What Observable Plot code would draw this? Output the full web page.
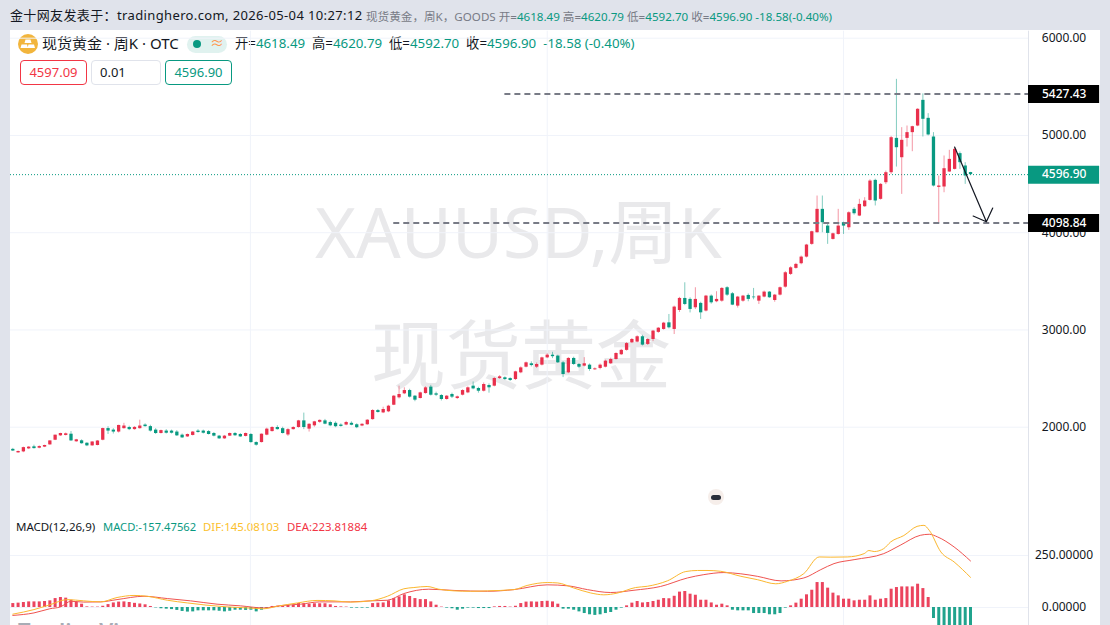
<!DOCTYPE html>
<html><head><meta charset="utf-8">
<script src="https://cdn.jsdelivr.net/npm/d3@7"></script>
<script src="https://cdn.jsdelivr.net/npm/@observablehq/plot@0.6"></script>
<style>
html,body{margin:0;padding:0;background:#e0e3eb;}
#root{position:relative;width:1110px;height:625px;overflow:hidden;background:#e0e3eb;font-family:"Noto Sans","Noto Sans CJK SC",sans-serif;color:#131722;}
#panel{position:absolute;left:10px;top:30px;width:1090px;height:595px;background:#fff;}
.a{position:absolute;white-space:nowrap;line-height:1;}
.t{color:#089981;}
.wm{color:#e9e9eb;font-family:"Noto Sans","Noto Sans CJK SC",sans-serif;}
.box{position:absolute;box-sizing:border-box;height:25px;top:60px;border-radius:4px;background:#fff;font-size:13px;line-height:23px;text-align:center;}
svg.p{position:absolute;left:0;background:transparent;}
</style></head><body>
<div id="root">
<div id="panel"></div>
<div class="a" style="left:10px;top:9px;font-size:13px;letter-spacing:.37px">金十网友发表于：tradinghero.com, 2026-05-04 10:27:12</div>
<div class="a" style="left:366px;top:11px;font-size:11.6px;color:#787b86">现货黄金，周K，GOODS 开=<span class="t">4618.49</span> 高=<span class="t">4620.79</span> 低=<span class="t">4592.70</span> 收=<span class="t">4596.90</span> <span class="t">-18.58(-0.40%)</span></div>
<div class="a wm" style="left:315px;top:196px;font-size:70px">XAUUSD,周K</div>
<div class="a wm" style="left:371px;top:317px;font-size:75px">现货黄金</div>
<svg class="a" style="left:17px;top:33px" width="22" height="22" viewBox="0 0 22 22"><circle cx="11" cy="11" r="10" fill="#f2b53c"/><path d="M8.5 6.5h5l1 3.5h-7zM4.5 11.5h5.5l1 3.5h-7.5zM11.5 11.5h5.5l1 3.5h-7.5z" fill="#fff"/></svg>
<div class="a" style="left:42px;top:36px;font-size:15px">现货黄金 · 周K · OTC</div>
<div class="a" style="left:187px;top:36px;width:40px;height:17px;border-radius:9px;background:#e0f2ef"></div>
<div class="a" style="left:193px;top:40px;width:8px;height:8px;border-radius:4px;background:#089981"></div>
<div class="a" style="left:210px;top:36px;font-size:14px;color:#ff9850">≈</div>
<div class="a" style="left:235px;top:37px;font-size:13.3px;">开=<span class="t">4618.49</span> &nbsp;高=<span class="t">4620.79</span> &nbsp;低=<span class="t">4592.70</span> &nbsp;收=<span class="t">4596.90</span> &nbsp;<span class="t">-18.58 (-0.40%)</span></div>
<div class="box" style="left:20px;width:67px;border:1px solid #f23645;color:#f23645">4597.09</div>
<div class="box" style="left:91px;width:70px;border:1px solid #e0e3eb;text-align:left;padding-left:8px">0.01</div>
<div class="box" style="left:165px;width:67px;border:1px solid #089981;color:#089981">4596.90</div>
<div class="a" style="left:16px;top:521px;font-size:11.5px;">MACD(12,26,9)</div>
<div class="a t" style="left:103px;top:521px;font-size:11.2px;">MACD:-157.47562</div>
<div class="a" style="left:203px;top:521px;font-size:11.4px;color:#fbc02d">DIF:145.08103</div>
<div class="a" style="left:287px;top:521px;font-size:11.4px;color:#f23645">DEA:223.81884</div>
<div class="a" style="left:18px;top:619px;font-size:22px;font-weight:600;color:#a8acb5">TradingView</div>
<div id="charts"></div>
<div class="a" style="left:708px;top:489px;width:16px;height:16px;border-radius:8px;background:#f6eeea"></div>
<div class="a" style="left:711px;top:494.5px;width:10px;height:5px;border-radius:3px;background:#2a2e39"></div>
</div>
<script>
const opens=[1772,1736,1746,1777,1798,1784,1795,1818,1866,1911,
1915,1928,1850,1860,1835,1808,1812,1866,1986,1970,
1950,1985,1997,1975,1985,2022,2006,1970,1935,1960,
1960,1950,1918,1900,1915,1960,1960,1955,1935,1908,
1880,1908,1935,1925,1905,1925,1842,1842,1918,1955,
1997,1985,1920,1975,1997,2065,1980,2014,2050,2065,
2048,2040,2022,2022,2040,2025,2012,2025,2078,2171,
2147,2158,2226,2302,2343,2377,2319,2295,2346,2412,
2343,2326,2285,2336,2295,2329,2353,2422,2398,2370,
2429,2422,2500,2508,2500,2490,2559,2617,2652,2617,
2638,2713,2741,2731,2662,2559,2707,2645,2628,2638,
2590,2604,2617,2652,2696,2745,2790,2868,2875,2930,
2851,2902,2975,3005,3073,3005,3200,3324,3314,3228,
3273,3194,3348,3290,3296,3434,3372,3245,3296,3355,
3338,3296,3338,3389,3303,3358,3440,3571,3633,3681,
3749,3880,4000,4240,4068,3931,3982,4103,4051,4240,
4171,4267,4332,4538,4343,4514,4617,4970,4771,4970,
5029,5097,5361,5176,4984,4466,4470,4624,4651,4813,4686,4618.49];
const highs=[1782,1755,1795,1800,1815,1808,1815,1860,1918,1938,
1940,1955,1875,1870,1840,1850,1862,1990,2005,1985,
2020,2040,2010,2005,2072,2035,2020,1985,1970,1975,
1970,1965,1930,1930,1955,1975,1970,1965,1945,1915,
1915,1940,1945,1935,1940,1935,1850,1930,1990,2005,
2015,2000,1985,2005,2070,2145,2035,2060,2075,2080,
2062,2055,2035,2060,2055,2035,2035,2078,2180,2182,
2205,2225,2325,2422,2405,2390,2325,2360,2415,2430,
2360,2335,2325,2350,2320,2385,2415,2465,2410,2455,
2445,2510,2530,2518,2508,2575,2620,2670,2672,2660,
2720,2755,2770,2740,2675,2715,2720,2655,2715,2650,
2610,2650,2690,2710,2765,2800,2870,2912,2940,2945,
2910,2995,3025,3078,3159,3245,3335,3485,3330,3434,
3285,3355,3360,3393,3435,3445,3385,3345,3355,3370,
3427,3350,3400,3395,3365,3442,3600,3650,3685,3760,
3880,4015,4377,4377,4103,3995,4240,4108,4215,4257,
4343,4360,4545,4550,4505,4634,4990,5577,5080,5097,
5095,5275,5427.43,5224,5029,4583,4789,4847,4870,4830,4720,4620.79];
const lows=[1750,1732,1738,1770,1775,1778,1790,1815,1862,1905,
1910,1855,1845,1825,1800,1804,1808,1860,1925,1930,
1940,1980,1965,1970,1980,2000,1950,1925,1930,1930,
1930,1905,1885,1895,1910,1940,1930,1920,1900,1875,
1875,1905,1905,1895,1900,1835,1805,1838,1912,1950,
1970,1930,1905,1970,1990,1975,1950,2000,2040,2025,
2005,1995,2000,2015,2015,1985,2005,2020,2072,2145,
2140,2150,2222,2290,2335,2300,2262,2290,2340,2320,
2315,2270,2278,2295,2285,2322,2345,2385,2350,2362,
2350,2415,2492,2480,2470,2480,2550,2610,2620,2605,
2630,2705,2705,2655,2510,2550,2635,2605,2620,2575,
2585,2590,2610,2645,2690,2738,2782,2860,2868,2835,
2840,2880,2965,2998,3010,2953,3180,3250,3175,3210,
3108,3185,3265,3280,3285,3345,3250,3225,3285,3290,
3310,3262,3330,3325,3285,3350,3430,3560,3625,3670,
3740,3870,3995,4000,3880,3925,3975,3982,4024,4180,
4165,4260,4325,4275,4335,4495,4600,4675,4394,4881,
4833,5090,4984,4995,4470,4098.84,4411,4620,4645,4651,4497,4592.70];
const closes=[1755,1750,1790,1795,1780,1801,1812,1859,1918,1935,
1932,1859,1870,1830,1808,1848,1858,1986,1960,1950,
2018,2012,1975,1998,2012,2006,1960,1935,1965,1938,
1938,1911,1890,1925,1950,1945,1938,1925,1908,1880,
1908,1935,1912,1900,1935,1842,1815,1928,1980,1997,
1975,1935,1975,1997,2065,1997,2030,2055,2070,2031,
2014,2005,2008,2048,2020,1995,2030,2072,2172,2151,
2182,2216,2319,2336,2377,2309,2278,2353,2405,2329,
2329,2285,2319,2309,2312,2377,2405,2394,2370,2439,
2405,2501,2518,2490,2480,2569,2610,2662,2634,2645,
2713,2741,2725,2662,2542,2707,2645,2617,2652,2593,
2600,2638,2679,2696,2758,2790,2860,2902,2930,2844,
2902,2988,3018,3070,3022,3235,3324,3262,3211,3314,
3176,3348,3279,3314,3427,3358,3255,3338,3348,3314,
3331,3348,3389,3331,3358,3434,3588,3639,3674,3749,
3873,4010,4240,4103,3993,3989,4068,4068,4205,4195,
4291,4326,4531,4326,4497,4617,4977,4874,4950,5029,
5090,5269,5166,5005,4480,4480,4658,4754,4857,4720,4583,4596.90];
const macdHist=[19,21,24,27,27,27,29,32,43,48,
45,35,27,16,3,2,2,6,14,22,
26,27,24,20,17,13,5,-2,-6,-8,
-10,-14,-19,-22,-21,-16,-16,-16,-16,-18,
-21,-18,-13,-13,-14,-13,-21,-13,-5,5,
6,6,10,11,19,18,16,18,18,18,
13,5,3,2,-3,-3,-3,-3,19,21,
22,32,43,51,61,53,43,38,38,27,
11,2,-3,-6,-13,-8,-3,-3,-5,-5,
-5,3,5,5,2,6,19,26,27,26,
29,30,27,16,-8,-8,-13,-21,-29,-35,
-38,-35,-29,-24,-13,-3,8,21,29,22,
24,29,35,43,42,54,74,77,64,59,
35,35,22,11,16,8,-13,-16,-16,-16,
-29,-29,-29,-35,-35,-29,-3,8,21,40,
61,83,120,120,93,69,56,40,40,32,
35,35,56,35,40,43,88,96,99,99,
99,112,91,48,-53,-95,-115,-125,-135,-145,-155,-157.47562];
const difIdx=[0,4,7,10.3,13.4,16.6,19.7,22.9,25.4,29.2,33,36.7,40.5,44.3,47.4,50,53.8,57.5,60.7,63.8,67.6,70.8,73.9,75.8,78.3,80.5,83.4,86.5,89.7,94.7,97.2,101,103,106,109.2,111.7,114.2,117.7,119.9,123.7,127.2,129.4,131.2,133.8,137.6,140.7,144.2,146.4,149.5,152.4,154.6,157.7,160.9,161.8,162.8,164.6,165.9,168.4,170.9,172.2,173.2,175.4,177.9,181];
const difVal=[-32,-10,13,38,32,27,48,58,54,35,22,11,3,-2,-6,6,22,34,32,26,32,54,90,96,101,88,80,78,80,86,106,120,118,94,70,61,69,96,102,128,173,178,178,174,150,134,114,126,163,243,242,243,259,274,269,283,315,346,390,395,371,267,219,145.08];
const deaIdx=[0,4,7,9,11,13.4,16.6,19.7,24.8,29.2,33.6,38.6,43,47.4,51,54.4,58,63.8,67.6,70.8,73.9,78.6,83.4,89.7,94.7,101,105,108.6,113,117.4,122.4,127.5,130.6,134.4,137.6,140.7,145.2,149.5,152.7,155.2,159,164.6,167.7,171.5,173.2,174.8,177.9,181];
const deaVal=[-38,-26,-6,3,30,26,27,38,54,43,32,16,8,-2,10,16,27,27,32,35,67,88,82,78,86,109,104,86,72,83,101,142,158,168,162,150,128,142,182,211,230,259,299,347,352,339,291,223.82];
const priceTicks=[2000,3000,4000,5000,6000];
const macdTicks=[0,250];
const gridIdx=[44.9,101,157];
const levels=[5427.43,4098.84];
const levelStart=[93,72];
const lastPrice=4596.90;
const arrowIdx=[178,184,181.5,184,185.2];
const arrowVal=[4881,4112,4171,4112,4253];

const UP="#e9304c",DN="#089981",GRID="#f0f3fa",BORDER="#e0e3eb";
const xDom=[-0.4347,191.96],xEnd=xDom[1],labelEnd=205.4,labelMid=198.7;
const candles=opens.map((o,i)=>({i,o,h:highs[i],l:lows[i],c:closes[i],col:closes[i]>=o?UP:DN}));
const base={width:1110,marginLeft:10,marginRight:82,marginTop:0,marginBottom:0,x:{domain:xDom},
  style:{fontFamily:'"Noto Sans","Noto Sans CJK SC",sans-serif',fontSize:"12px",color:"#131722",background:"transparent"}};
const yTop=6072,yBot=1136.2;
const tag=(v,bg)=>[
  Plot.ruleY([v],{x1:xEnd,x2:labelEnd,stroke:bg,strokeWidth:18}),
  Plot.text([v],{x:labelMid,y:d=>d,text:d=>d.toFixed(2),fill:"#fff",fontSize:12,fontWeight:500,textAnchor:"middle"})
];
const price=Plot.plot({...base,height:511,className:"p",
  y:{domain:[1136.2,6380.5],range:[510.7,0.7]},
  marks:[
    Plot.ruleY(priceTicks,{x1:xDom[0],x2:xEnd,stroke:GRID}),
    Plot.ruleX(gridIdx,{y1:yBot,y2:yTop,stroke:GRID}),
    Plot.axisY({anchor:"right",ticks:priceTicks,tickSize:0,tickPadding:35.5,textAnchor:"middle",tickFormat:d=>d.toFixed(2),label:null,fill:"#131722",fontSize:12}),
    Plot.ruleX([xEnd],{y1:yBot,y2:yTop,stroke:BORDER}),
    Plot.ruleY([lastPrice],{x1:xDom[0],x2:xEnd,stroke:DN,strokeDasharray:"1,2"}),
    Plot.ruleX(candles,{x:"i",y1:"l",y2:"h",stroke:"col",strokeOpacity:.5,strokeWidth:1}),
    Plot.ruleX(candles,{x:"i",y1:"o",y2:"c",stroke:"col",strokeWidth:3.3}),
    Plot.ruleY(levels,{x1:(d,i)=>levelStart[i],x2:xEnd,stroke:"#787b86",strokeWidth:2,strokeDasharray:"6,4"}),
    Plot.line(arrowIdx.map((x,i)=>({x,y:arrowVal[i]})),{x:"x",y:"y",stroke:"#131722",strokeWidth:1.2}),
    ...tag(levels[0],"#000"),...tag(levels[1],"#000"),...tag(lastPrice,DN)
  ]});
price.style.top="0px";
const hist=macdHist.map((v,i)=>({i,v,col:v>=0?UP:DN}));
const macd=Plot.plot({...base,height:115,className:"p",
  y:{domain:[-86.5,466.3],range:[115,0]},
  marks:[
    Plot.ruleY(macdTicks,{x1:xDom[0],x2:xEnd,stroke:GRID}),
    Plot.ruleX(gridIdx,{y1:-86.5,y2:466.3,stroke:GRID}),
    Plot.axisY({anchor:"right",ticks:macdTicks,tickSize:0,tickPadding:35.5,textAnchor:"middle",tickFormat:d=>d.toFixed(5),label:null,fill:"#131722",fontSize:12}),
    Plot.ruleX([xEnd],{y1:-86.5,y2:466.3,stroke:BORDER}),
    Plot.ruleX(hist,{x:"i",y1:0,y2:"v",stroke:"col",strokeWidth:3,strokeOpacity:.9}),
    Plot.line(deaIdx.map((x,i)=>({x,y:deaVal[i]})),{x:"x",y:"y",stroke:"#ef5350",strokeWidth:1,curve:"monotone-x"}),
    Plot.line(difIdx.map((x,i)=>({x,y:difVal[i]})),{x:"x",y:"y",stroke:"#fbb72f",strokeWidth:1,curve:"monotone-x"})
  ]});
macd.style.top="510px";
document.getElementById("charts").append(price,macd);
</script>
</body></html>
